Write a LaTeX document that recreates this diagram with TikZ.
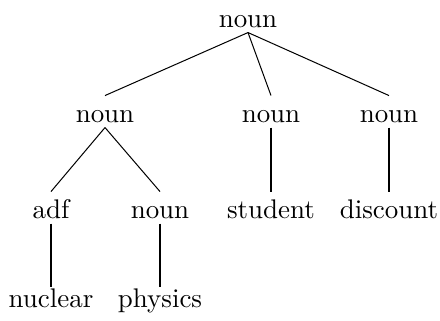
\documentclass[tikz,border=0pt]{standalone}
\usepackage{xcolor}
\usepackage{tikz}
\definecolor{Ink}{HTML}{000000}
\tikzset{
  word/.style={anchor=base,inner xsep=0pt,inner ysep=2pt,text height=8.3pt,text depth=0pt,text=Ink,font=\fontsize{10.7}{13}\selectfont},
  leaf/.style={word,text height=5.9pt},
  branch/.style={draw=Ink,line width=0.4pt}
}
\begin{document}
\begin{tikzpicture}[x=0.397pt,y=-0.397pt]
  \useasboundingbox (0,0) rectangle (440,320);
  \node[word] (root) at (248,27) {noun};
  \node[word] (nnl) at (105,122) {noun};
  \node[word] (nnm) at (271,122) {noun};
  \node[word] (nnr) at (389,122) {noun};
  \node[word] (adf) at (51,218) {adf};
  \node[word] (nnp) at (160,218) {noun};
  \node[word] (student) at (271,218) {student};
  \node[word] (discount) at (389,218) {discount};
  \node[leaf] (nuclear) at (51,307) {nuclear};
  \node[leaf] (physics) at (160,307) {physics};
  \foreach \a/\b in {root/nnl,root/nnm,root/nnr,nnl/adf,nnl/nnp,nnm/student,nnr/discount,adf/nuclear,nnp/physics} {\draw[branch] (\a.south) -- (\b.north);}
\end{tikzpicture}
\end{document}
